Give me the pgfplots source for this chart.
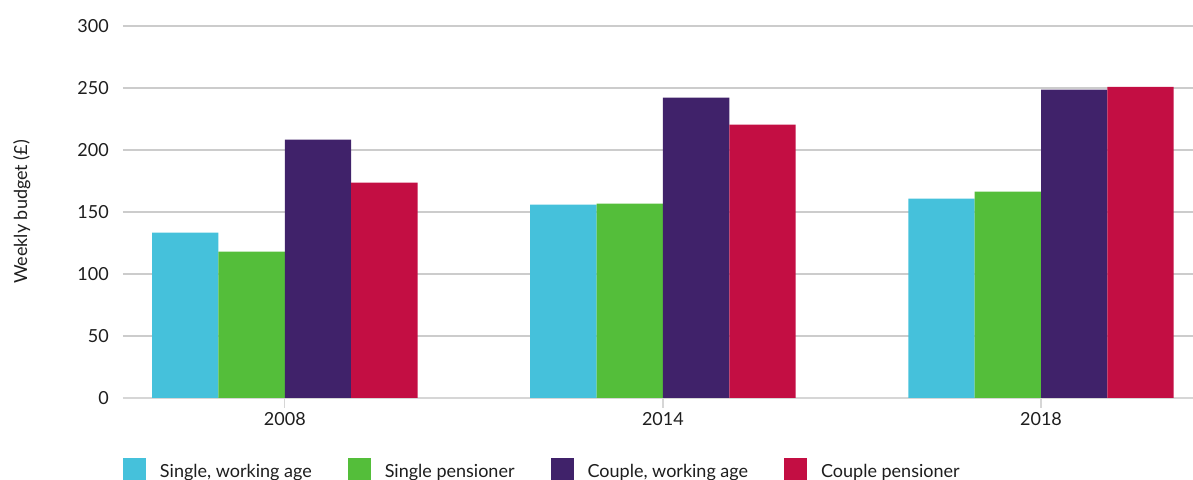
\documentclass[border=0pt]{standalone}
\usepackage{fontspec}
\setmainfont{Lato}
\usepackage{pgfplots}
\pgfplotsset{compat=1.18}
\definecolor{cA}{HTML}{45C1DB}
\definecolor{cB}{HTML}{54BE3A}
\definecolor{cC}{HTML}{40226A}
\definecolor{cD}{HTML}{C30E43}
\definecolor{gridc}{HTML}{CCCCCC}
\definecolor{axc}{HTML}{D6D6D6}
\definecolor{txt}{HTML}{1E1E1E}
\begin{document}
\begin{tikzpicture}
\begin{axis}[name=ax,
  scale only axis, width=1070pt, height=372pt,
  xmin=-0.428, xmax=2.402, ymin=0, ymax=300,
  ybar=0pt, bar width=0.1755,
  xtick={0,1,2}, xticklabels={2008,2014,2018},
  ytick={0,50,...,300},
  ymajorgrids, grid style={line width=1.3pt, color=gridc},
  separate axis lines,
  axis x line*=bottom, axis y line*=left,
  x axis line style={color=axc, line width=2pt, -},
  y axis line style={draw=none},
  ytick style={draw=none},
  xtick style={color=axc, line width=1.3pt},
  major tick length=10pt, tick align=outside,
  /pgf/number format/assume math mode=true,
  ticklabel style={font=\fontsize{18}{21}\selectfont, text=txt},
  yticklabel style={inner sep=0pt, xshift=-4pt},
  xticklabel style={inner sep=0pt, yshift=-4.7pt},
  every axis y label/.style={at={(axis description cs:0,0.5)}, xshift=-110pt, rotate=90, anchor=north, inner sep=0pt, font=\fontsize{18}{21}\selectfont, text=txt},
  ylabel={Weekly budget (£)},
  legend columns=4,
  legend style={at={(rel axis cs:0,-0.2204)}, anchor=south west, draw=none, inner sep=0pt, outer sep=0pt,
    font=\fontsize{18}{21}\selectfont, text=txt, nodes={inner sep=0pt},
    /tikz/every odd column/.append style={column sep=14pt},
    /tikz/every even column/.append style={column sep=36pt}},
  legend image code/.code={\fill[#1] (0pt,-8.7pt) rectangle (23pt,13.3pt);},
]
\addplot[fill=cA, draw=none] coordinates {(0,133.3) (1,155.9) (2,160.7)};
\addplot[fill=cB, draw=none] coordinates {(0,118) (1,156.7) (2,166.4)};
\addplot[fill=cC, draw=none] coordinates {(0,208.3) (1,242.2) (2,248.6)};
\addplot[fill=cD, draw=none] coordinates {(0,173.6) (1,220.4) (2,251)};
\legend{{Single, working age}, {Single pensioner}, {Couple, working age}, {Couple pensioner}}
\end{axis}
\pgfresetboundingbox
\path ([xshift=-123pt,yshift=-82pt]ax.south west) rectangle ([yshift=26pt]ax.north east);
\end{tikzpicture}
\end{document}
